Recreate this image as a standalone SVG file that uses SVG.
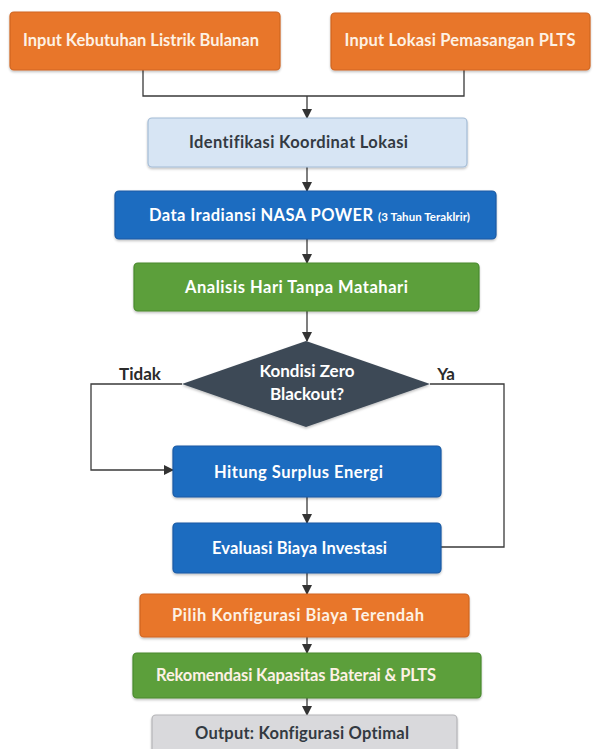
<svg xmlns="http://www.w3.org/2000/svg" width="597" height="749" viewBox="0 0 597 749">
  <defs>
    <filter id="shadow" x="-5%" y="-20%" width="110%" height="150%">
      <feDropShadow dx="0" dy="1.5" stdDeviation="1.2" flood-color="#000" flood-opacity="0.25"/>
    </filter>
    <marker id="arrow" viewBox="0 0 10 10" refX="9" refY="5" markerWidth="10" markerHeight="10" markerUnits="userSpaceOnUse" orient="auto">
      <path d="M0,0 L10,5 L0,10 z" fill="#333"/>
    </marker>
    <style>
      .box { filter: url(#shadow); stroke-width: 1.2; }
      .orange { fill: #e8762b; stroke: #cf6520; }
      .blue { fill: #1f6cc0; stroke: #1859a3; }
      .green { fill: #5b9f3b; stroke: #4a8a2e; }
      .light { fill: #d7e5f4; stroke: #a4bcd6; }
      .grey { fill: #d9d9dc; stroke: #b5b5b8; }
      .diamond { fill: #3e4a57; filter: url(#shadow); }
      text { font-family: "Lato", "Open Sans", "Liberation Sans", sans-serif; font-weight: bold; font-size: 16.5px; text-anchor: middle; dominant-baseline: central; font-variant-ligatures: none; }
      .wt { fill: #ffffff; }
      .ow { fill: #fdf1e4; }
      .dk { fill: #333a42; }
      .lbl { fill: #2b2b2b; font-size: 17px; }
      .dia { font-size: 17px; }
      .small { font-size: 11.5px; }
      .start { text-anchor: start; }
      .edge { fill: none; stroke: #3a3a3a; stroke-width: 1.3; }
    </style>
  </defs>

  <g id="connectors">
    <path class="edge" d="M143,70 V96 H464 V70"/>
    <path class="edge" d="M307,96 V118" marker-end="url(#arrow)"/>
    <path class="edge" d="M307,167 V191" marker-end="url(#arrow)"/>
    <path class="edge" d="M307,239 V263" marker-end="url(#arrow)"/>
    <path class="edge" d="M307,311 V341" marker-end="url(#arrow)"/>
    <path class="edge" d="M182,384 H91 V470 H173" marker-end="url(#arrow)"/>
    <path class="edge" d="M430,384 H504 V547 H441"/>
    <path class="edge" d="M307,497 V523" marker-end="url(#arrow)"/>
    <path class="edge" d="M307,573 V594" marker-end="url(#arrow)"/>
    <path class="edge" d="M307,637 V653" marker-end="url(#arrow)"/>
    <path class="edge" d="M307,698 V715" marker-end="url(#arrow)"/>
    <text class="lbl" x="140" y="373">Tidak</text>
    <text class="lbl" x="446" y="373">Ya</text>
  </g>

  <g id="input-kebutuhan">
    <rect class="box orange" x="10" y="12" width="270" height="58" rx="4"/>
    <text class="ow" x="141" y="40" textLength="236">Input Kebutuhan Listrik Bulanan</text>
  </g>

  <g id="input-lokasi">
    <rect class="box orange" x="331" y="13" width="259" height="57" rx="4"/>
    <text class="ow" x="460" y="40" textLength="231">Input Lokasi Pemasangan PLTS</text>
  </g>

  <g id="identifikasi">
    <rect class="box light" x="148" y="118" width="319" height="49" rx="4"/>
    <text class="dk" x="298.5" y="142" textLength="219">Identifikasi Koordinat Lokasi</text>
  </g>

  <g id="data-iradiansi">
    <rect class="box blue" x="115" y="191" width="381" height="48" rx="4"/>
    <text class="wt start" x="149" y="215" textLength="224">Data Iradiansi NASA POWER</text>
    <text class="wt start small" x="378" y="216" textLength="92">(3 Tahun Teraklrir)</text>
  </g>

  <g id="analisis">
    <rect class="box green" x="134" y="263" width="345" height="48" rx="4"/>
    <text class="wt" x="296.5" y="287" textLength="223">Analisis Hari Tanpa Matahari</text>
  </g>

  <g id="kondisi">
    <polygon class="diamond" points="306,341 430,384 306,427 182,384"/>
    <text class="wt dia" x="307" y="370">Kondisi Zero</text>
    <text class="wt dia" x="307" y="393">Blackout?</text>
  </g>

  <g id="hitung">
    <rect class="box blue" x="173" y="446" width="268" height="51" rx="4"/>
    <text class="wt" x="298.5" y="472" textLength="169">Hitung Surplus Energi</text>
  </g>

  <g id="evaluasi">
    <rect class="box blue" x="173" y="523" width="268" height="50" rx="4"/>
    <text class="wt" x="299.5" y="548" textLength="175">Evaluasi Biaya Investasi</text>
  </g>

  <g id="pilih">
    <rect class="box orange" x="140" y="594" width="329" height="43" rx="4"/>
    <text class="ow" x="298" y="615" textLength="252">Pilih Konfigurasi Biaya Terendah</text>
  </g>

  <g id="rekomendasi">
    <rect class="box green" x="133" y="653" width="348" height="45" rx="4"/>
    <text class="ow" x="296" y="675" textLength="280">Rekomendasi Kapasitas Baterai &amp; PLTS</text>
  </g>

  <g id="output">
    <rect class="box grey" x="152" y="715" width="305" height="45" rx="4"/>
    <text class="dk" x="302" y="733" textLength="214">Output: Konfigurasi Optimal</text>
  </g>
</svg>
